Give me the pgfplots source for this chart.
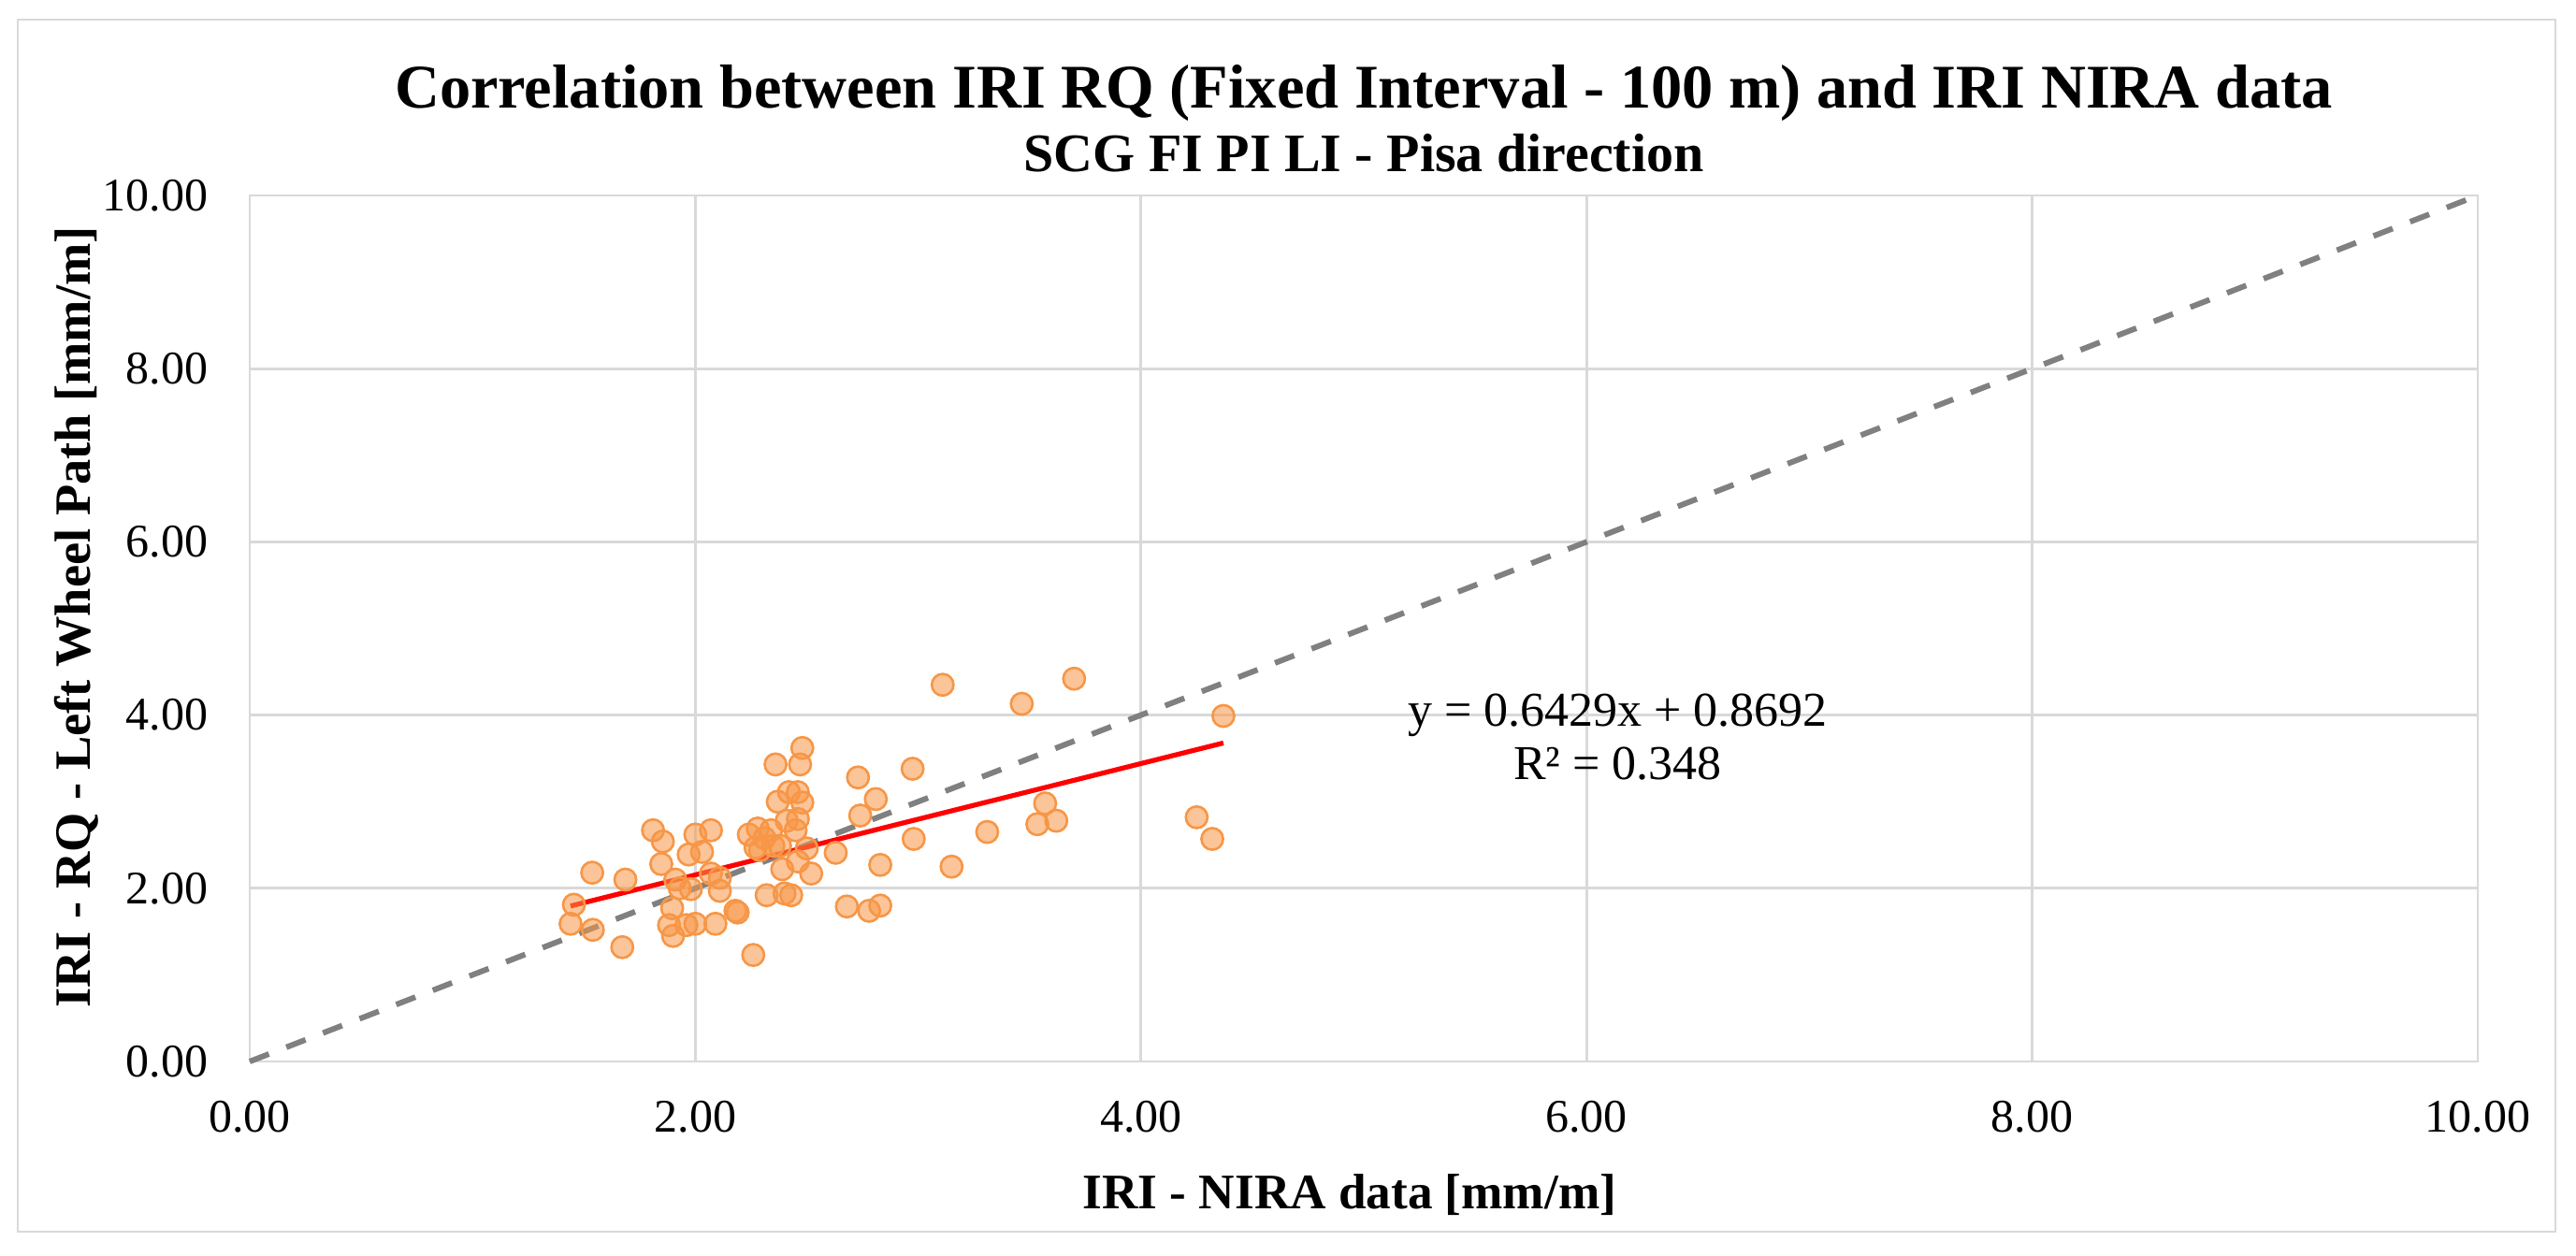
\documentclass[border=0pt]{standalone}
\usepackage{fontspec}
\setmainfont{Liberation Serif}
\usepackage{pgfplots}
\pgfplotsset{compat=1.18}

\definecolor{gridgray}{RGB}{217,217,217}
\definecolor{dashgray}{RGB}{128,128,128}
\definecolor{ptorange}{RGB}{247,150,70}
\definecolor{fitred}{RGB}{255,0,0}

\begin{document}
\begin{tikzpicture}
\begin{axis}[
  scale only axis,
  width=595.5pt, height=231.5pt,
  xmin=0, xmax=10, ymin=0, ymax=10,
  xtick={0,2,...,10}, ytick={0,2,...,10},
  grid=major,
  grid style={gridgray, line width=0.7pt},
  axis line style={gridgray, line width=0.7pt},
  tick style={draw=none},
  clip=false,
  /pgf/number format/.cd, fixed, fixed zerofill, precision=2, assume math mode=true,
  /pgfplots/.cd,
  ticklabel style={font=\fontsize{12.5}{14}\selectfont, inner sep=0pt},
  xticklabel style={anchor=base, yshift=-18.75pt},
  yticklabel style={anchor=east, xshift=-11pt},
]
% y = x reference
\addplot[dashgray, line width=1.5pt, dash pattern=on 5.5pt off 5pt] coordinates {(0,0) (10,10)};

% IRI NIRA vs IRI RQ (100 m intervals)
\addplot[only marks, mark=*, mark size=2.9pt,
  mark options={draw=ptorange, fill=ptorange, fill opacity=0.55, line width=0.65pt}]
  coordinates {
  (1.455,1.81) (1.44,1.59) (1.537,2.18) (1.54,1.52) (1.686,2.10) (1.672,1.32)
  (1.81,2.67) (1.854,2.54) (1.847,2.28) (1.91,2.10) (1.93,2.00) (1.896,1.77)
  (1.882,1.575) (1.90,1.45) (1.96,1.575) (2.00,1.59) (1.97,2.39) (2.03,2.42)
  (2.00,2.62) (2.07,2.67) (1.98,1.99) (2.07,2.17) (2.11,1.97) (2.11,2.12)
  (2.09,1.59) (2.19,1.72) (2.18,1.74) (2.26,1.23) (2.24,2.62) (2.28,2.69)
  (2.29,2.44) (2.32,1.92) (2.34,2.67) (2.36,3.43) (2.37,3.00) (2.35,2.49)
  (2.38,2.49) (2.39,2.22) (2.40,1.94) (2.43,1.92) (2.42,3.11) (2.46,3.11)
  (2.48,2.99) (2.48,3.62) (2.47,3.43) (2.46,2.80) (2.45,2.67) (2.41,2.78)
  (2.46,2.31) (2.50,2.46) (2.52,2.17) (2.27,2.47) (2.31,2.58)
  (2.73,3.28) (2.81,3.03) (2.74,2.84) (2.63,2.41) (2.83,2.27) (2.68,1.79)
  (2.78,1.74) (2.83,1.80) (2.975,3.38) (2.98,2.57) (3.11,4.35) (3.465,4.13)
  (3.70,4.42) (4.37,3.99) (3.15,2.25) (3.31,2.65) (3.57,2.98) (3.535,2.74)
  (3.62,2.78) (4.25,2.82) (4.32,2.57)
  };

% linear trend y = 0.6429x + 0.8692
\addplot[fitred, line width=1.3pt] coordinates {(1.44,1.795) (4.37,3.678)};

\node[anchor=base, font=\fontsize{13}{15}\selectfont] at (axis cs:6.14,3.87) {y = 0.6429x + 0.8692};
\node[anchor=base, font=\fontsize{13}{15}\selectfont] at (axis cs:6.14,3.26) {R² = 0.348};

\node[anchor=base, font=\bfseries\fontsize{16.6}{19}\selectfont]
  at ([yshift=23.5pt]rel axis cs:0.5,1) {Correlation between IRI RQ (Fixed Interval - 100 m) and IRI NIRA data};
\node[anchor=base, font=\bfseries\fontsize{14.5}{17}\selectfont]
  at ([yshift=6.5pt]rel axis cs:0.5,1) {SCG FI PI LI - Pisa direction};
\node[anchor=base, font=\bfseries\fontsize{13.3}{16}\selectfont]
  at ([yshift=-39.25pt]rel axis cs:0.4937,0) {IRI - NIRA data [mm/m]};
\node[anchor=base, rotate=90, font=\bfseries\fontsize{13.6}{16}\selectfont]
  at ([xshift=-42.5pt]rel axis cs:0,0.513) {IRI - RQ - Left Wheel Path [mm/m]};
\end{axis}
\draw[gridgray, line width=0.7pt] (-62pt,-45.5pt) rectangle (616.25pt,278.5pt);
\path (-66.75pt,-51.75pt) rectangle (621.75pt,283.75pt);
\end{tikzpicture}
\end{document}
